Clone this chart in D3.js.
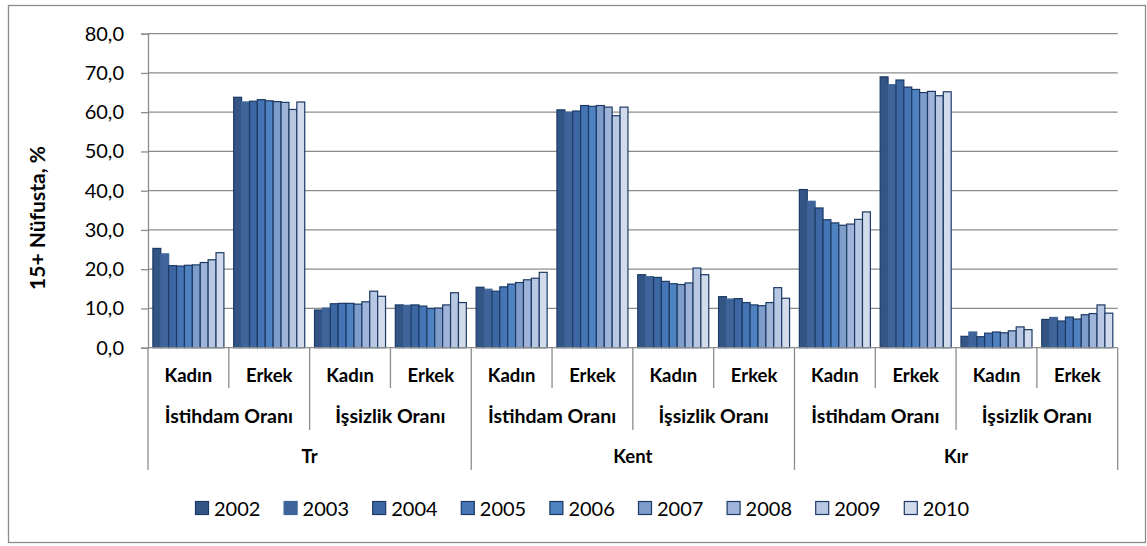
<!DOCTYPE html>
<html><head><meta charset="utf-8">
<script src="https://cdn.jsdelivr.net/npm/d3@7"></script>
<style>body{margin:0;background:#fff}svg{display:block}</style>
</head><body>
<script>
const regions = ["Tr", "Kent", "Kır"];
const rates = ["İstihdam Oranı", "İşsizlik Oranı"];
const sexes = ["Kadın", "Erkek"];
const years = ["2002","2003","2004","2005","2006","2007","2008","2009","2010"];
const yTicks = [0,10,20,30,40,50,60,70,80];
// values per leaf group (region, rate, sex), one per year
const trIstihdamKadin = [25.3,23.9,20.9,20.8,21.0,21.1,21.7,22.4,24.2];
const trIstihdamErkek = [63.8,62.6,62.8,63.2,62.9,62.7,62.5,60.7,62.6];
const trIssizlikKadin = [9.6,10.1,11.2,11.3,11.3,11.1,11.7,14.4,13.1];
const trIssizlikErkek = [10.9,10.8,10.9,10.6,10.0,10.1,10.9,14.0,11.5];
const kentIstihdamKadin = [15.4,14.9,14.4,15.5,16.2,16.6,17.3,17.7,19.2];
const kentIstihdamErkek = [60.6,60.0,60.3,61.7,61.5,61.7,61.3,59.1,61.3];
const kentIssizlikKadin = [18.6,18.1,17.9,16.9,16.3,16.1,16.5,20.3,18.6];
const kentIssizlikErkek = [13.0,12.4,12.5,11.5,10.9,10.7,11.5,15.3,12.6];
const kirIstihdamKadin = [40.3,37.3,35.6,32.6,31.8,31.2,31.5,32.7,34.6];
const kirIstihdamErkek = [69.0,67.0,68.2,66.4,65.8,65.0,65.3,64.2,65.2];
const kirIssizlikKadin = [2.9,4.0,2.8,3.7,4.0,3.8,4.3,5.3,4.6];
const kirIssizlikErkek = [7.2,7.7,6.8,7.8,7.3,8.4,8.7,10.9,8.8];
const groupValues = [trIstihdamKadin,trIstihdamErkek,trIssizlikKadin,trIssizlikErkek,
  kentIstihdamKadin,kentIstihdamErkek,kentIssizlikKadin,kentIssizlikErkek,
  kirIstihdamKadin,kirIstihdamErkek,kirIssizlikKadin,kirIssizlikErkek];
const colors = ["#335586","#3e6499","#3c67a3","#4675b5","#4f82c0","#7e9dcb","#9fb4d8","#b9c8e2","#d1dbec"];
const strokeCol = "#1c3a64";

const W = 1147, H = 546;
const svg = d3.select("body").append("svg").attr("width", W).attr("height", H);
svg.append("rect").attr("x",8.5).attr("y",5.5).attr("width",1137).attr("height",537)
  .attr("fill","#fff").attr("stroke","#8c8c8c").attr("stroke-width",1.3);

const pLeft = 148, pRight = 1117.7, pTop = 33.7, pBottom = 347.7;
const font = "Lato, 'Open Sans', sans-serif";
const grey = "#8c8c8c";

// leaves
const leaves = [];
regions.forEach(r => rates.forEach(rt => sexes.forEach(s => leaves.push({r, rt, s}))));
leaves.forEach((d,i) => { d.key = i; d.values = groupValues[i]; });

const y = d3.scaleLinear().domain([0,80]).range([pBottom, pTop]);
const x0 = d3.scaleBand().domain(leaves.map(d=>d.key)).range([pLeft, pRight]).padding(0);
const x1 = d3.scaleBand().domain(years).range([0, x0.bandwidth()]).paddingInner(0).paddingOuter(0.62);

// gridlines
svg.append("g").selectAll("line").data(yTicks.filter(t=>t>0)).join("line")
  .attr("x1", pLeft).attr("x2", pRight).attr("y1", d=>y(d)).attr("y2", d=>y(d))
  .attr("stroke", grey).attr("stroke-width", 1.3);

// y axis
const yAxis = d3.axisLeft(y).tickValues(yTicks).tickSize(7).tickPadding(17)
  .tickFormat(d => d3.format(".1f")(d).replace(".", ","));
const ga = svg.append("g").attr("transform", `translate(${pLeft},0)`).call(yAxis);
ga.select(".domain").attr("stroke", grey).attr("stroke-width",1.3);
ga.selectAll(".tick line").attr("stroke", grey).attr("stroke-width",1.3);
ga.selectAll(".tick text").attr("font-family", font).attr("font-size", 20).attr("fill","#000");

// bars
const gg = svg.append("g").selectAll("g").data(leaves).join("g")
  .attr("transform", d => `translate(${x0(d.key)},0)`);
gg.selectAll("rect").data(d => d.values.map((v,i)=>({v, yr: years[i], i}))).join("rect")
  .attr("x", d => x1(d.yr)).attr("width", x1.bandwidth())
  .attr("y", d => y(d.v)).attr("height", d => y(0)-y(d.v))
  .attr("fill", d => colors[d.i])
  .attr("stroke", d => d.i===1 ? colors[1] : strokeCol).attr("stroke-width", 1.2);

// x axis baseline
svg.append("line").attr("x1", pLeft).attr("x2", pRight).attr("y1", pBottom).attr("y2", pBottom)
  .attr("stroke", grey).attr("stroke-width", 1.3);

// separators
const bw = x0.bandwidth();
const sepG = svg.append("g");
for (let i = 0; i <= leaves.length; i++) {
  const xx = pLeft + i*bw;
  let len = 388;
  if (i % 4 === 0) len = 470; else if (i % 2 === 0) len = 430;
  sepG.append("line").attr("x1", xx).attr("x2", xx).attr("y1", pBottom).attr("y2", len)
    .attr("stroke", grey).attr("stroke-width", 1.3);
}

// labels level 1
svg.append("g").selectAll("text").data(leaves).join("text")
  .attr("x", d => x0(d.key) + bw/2).attr("y", 382)
  .attr("text-anchor","middle").attr("font-family", font).attr("font-weight","bold").attr("font-size",18.5)
  .text(d => d.s);
// level 2
const lvl2 = [];
regions.forEach((r,ri) => rates.forEach((rt,ti) => lvl2.push({rt, idx: ri*4 + ti*2})));
svg.append("g").selectAll("text").data(lvl2).join("text")
  .attr("x", d => x0(d.idx) + bw).attr("y", 423)
  .attr("text-anchor","middle").attr("font-family", font).attr("font-weight","bold").attr("font-size",19.5)
  .text(d => d.rt);
// level 3
svg.append("g").selectAll("text").data(regions).join("text")
  .attr("x", (d,i) => x0(i*4) + 2*bw).attr("y", 463)
  .attr("text-anchor","middle").attr("font-family", font).attr("font-weight","bold").attr("font-size",18.5)
  .text(d => d);

// y title
svg.append("text").attr("transform","translate(45,218) rotate(-90)")
  .attr("text-anchor","middle").attr("font-family", font).attr("font-weight","bold").attr("font-size",21)
  .text("15+ Nüfusta, %");

// legend
const lg = svg.append("g").selectAll("g").data(years).join("g")
  .attr("transform", (d,i) => `translate(${195 + i*88.6},501)`);
lg.append("rect").attr("x",0.5).attr("y",0.5).attr("width",13).attr("height",13)
  .attr("fill", (d,i)=>colors[i]).attr("stroke", (d,i)=> i===1 ? colors[1] : strokeCol).attr("stroke-width",1.2);
lg.append("text").attr("x",19).attr("y",14.5).attr("font-family", font).attr("font-size",20)
  .text(d=>d);
</script>
</body></html>
